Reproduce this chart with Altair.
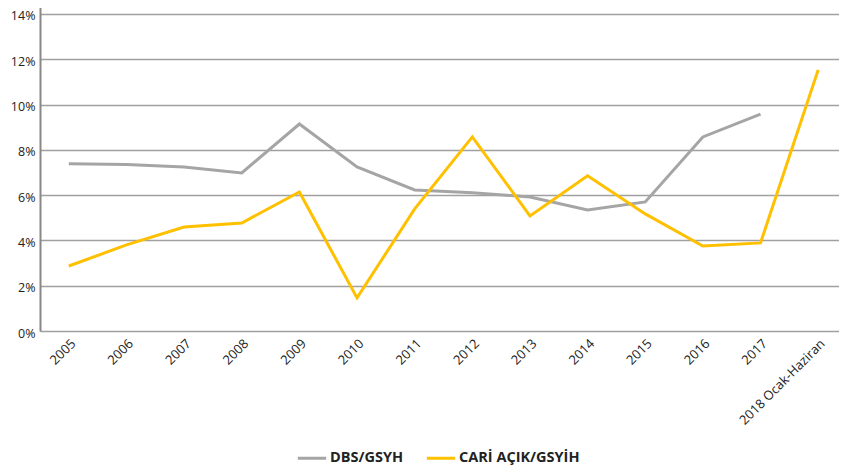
import altair as alt
import pandas as pd

years = ["2005", "2006", "2007", "2008", "2009", "2010", "2011", "2012",
         "2013", "2014", "2015", "2016", "2017", "2018 Ocak-Haziran"]
dbs = [7.38, 7.35, 7.24, 6.98, 9.14, 7.24, 6.23, 6.10, 5.92, 5.34, 5.70, 8.57, 9.58, None]
cari = [2.87, 3.80, 4.59, 4.77, 6.14, 1.46, 5.39, 8.57, 5.08, 6.85, 5.17, 3.75, 3.89, 11.53]
series_names = ["DBS/GSYH", "CARİ AÇIK/GSYİH"]
series_colors = ["#a5a5a5", "#ffc000"]

rows = []
for y, a, b in zip(years, dbs, cari):
    if a is not None:
        rows.append({"year": y, "series": series_names[0], "value": a / 100})
    if b is not None:
        rows.append({"year": y, "series": series_names[1], "value": b / 100})
df = pd.DataFrame(rows)

font = "Open Sans"

chart = alt.Chart(df).mark_line(strokeWidth=3).encode(
    x=alt.X("year:N", sort=years, title=None,
            axis=alt.Axis(labelAngle=-45, labelAlign="right", labelBaseline="top",
                          labelFontSize=13, labelColor="#222", labelFont=font,
                          ticks=False, domain=False, grid=False, labelPadding=6)),
    y=alt.Y("value:Q", title=None,
            scale=alt.Scale(domain=[0, 0.1457], nice=False),
            axis=alt.Axis(values=[0, 0.02, 0.04, 0.06, 0.08, 0.10, 0.12, 0.14],
                          format=".0%", ticks=False, domainColor="#888",
                          domainWidth=2, gridColor="#a0a0a0", gridWidth=1.5,
                          labelFontSize=12.5, labelColor="#222", labelFont=font,
                          labelPadding=5, labelOffset=2)),
    color=alt.Color("series:N", sort=series_names,
                    scale=alt.Scale(domain=series_names, range=series_colors),
                    legend=alt.Legend(title=None, orient="none", direction="horizontal",
                                      legendX=256, legendY=441,
                                      symbolType="stroke", symbolStrokeWidth=3,
                                      symbolSize=800, labelFontSize=14.5,
                                      labelFontWeight="bold", labelColor="#222",
                                      labelFont=font, columnPadding=16,
                                      labelOffset=2)),
).properties(
    width=807, height=330,
    autosize=alt.AutoSizeParams(type="none"),
    padding={"left": 32, "top": -7, "right": -8, "bottom": 135},
).configure_view(stroke=None)

chart.save("out.html", embed_options={"renderer": "svg", "actions": False})
